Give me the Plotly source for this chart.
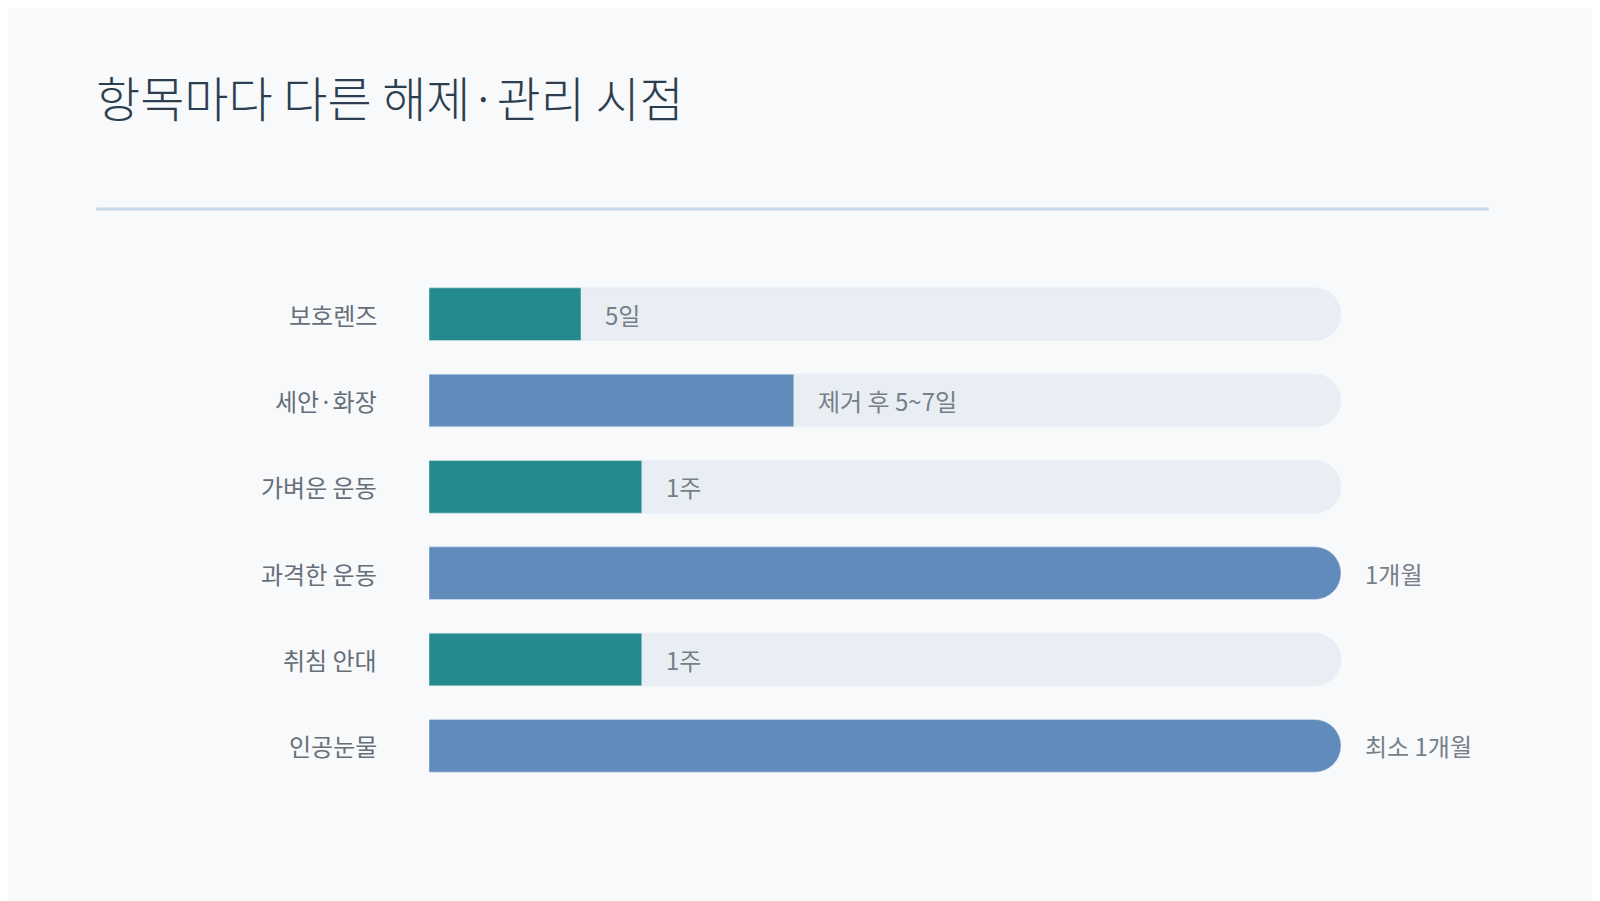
import plotly.graph_objects as go

# ______________________________________________________________________________
# DATA
# ______________________________________________________________________________

items = ['보호렌즈', '세안·화장', '가벼운 운동', '과격한 운동', '취침 안대', '인공눈물']
days = [5, 12, 7, 30, 7, 30]
value_labels = ['5일', '제거 후 5~7일', '1주', '1개월', '1주', '최소 1개월']
bar_colors = ['#238b8e', '#618bbb', '#238b8e', '#618bbb', '#238b8e', '#618bbb']
track_max = 30

FONT = 'Noto Sans CJK KR'

fig = go.Figure()

# background track
fig.add_trace(go.Bar(y=items, x=[track_max] * len(items), orientation='h',
                     marker=dict(color='#e8eef4', cornerradius='50%'),
                     width=0.61, hoverinfo='skip'))
# values
fig.add_trace(go.Bar(y=items, x=days, orientation='h',
                     marker=dict(color=bar_colors, cornerradius='50%'),
                     width=0.61))

for name, v, lab in zip(items, days, value_labels):
    fig.add_annotation(x=0, y=name, text=name, showarrow=False, xanchor='right',
                       xshift=-50, font=dict(size=24, color='#666e78', family=FONT))
    fig.add_annotation(x=v, y=name, text=lab, showarrow=False, xanchor='left',
                       xshift=22, font=dict(size=24, color='#777f88', family=FONT))

# divider line under the title
fig.add_shape(type='line', xref='paper', yref='paper',
              x0=-0.365, x1=1.162, y0=1.1197, y1=1.1197,
              line=dict(color='#c9d9e8', width=3))

fig.update_layout(
    width=1600, height=901,
    barmode='overlay', showlegend=False,
    paper_bgcolor='#f7f9fb', plot_bgcolor='#f7f9fb',
    margin=dict(l=421, r=267, t=263, b=120),
    title=dict(text='항목마다 다른 해제·관리 시점', x=0.055, xanchor='left',
               y=1 - 92 / 901, yanchor='middle',
               font=dict(size=48, color='#2c3e50', family=FONT, weight=300)),
    xaxis=dict(range=[0, track_max], visible=False, fixedrange=True),
    yaxis=dict(categoryorder='array', categoryarray=items, range=[5.5, -0.5],
               visible=False, fixedrange=True),
)

fig.write_html('out.html')
